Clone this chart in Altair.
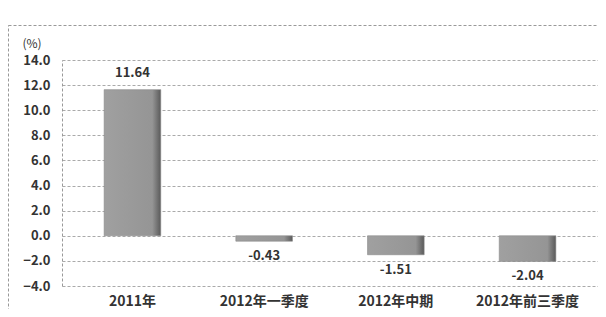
import altair as alt
import pandas as pd

categories = ["2011年", "2012年一季度", "2012年中期", "2012年前三季度"]
values = [11.64, -0.43, -1.51, -2.04]
labels = ["11.64", "-0.43", "-1.51", "-2.04"]
y_ticks = [-4.0, -2.0, 0.0, 2.0, 4.0, 6.0, 8.0, 10.0, 12.0, 14.0]

df = pd.DataFrame({"cat": categories, "val": values, "lab": labels})

font = "Noto Sans CJK SC"

x_enc = alt.X("cat:N", sort=categories, title=None,
              scale=alt.Scale(paddingInner=0.57, paddingOuter=0.32),
              axis=alt.Axis(labelAngle=0, labelFontSize=14, labelFontWeight="bold",
                            labelColor="#333", labelFont=font, domain=False, ticks=False,
                            labelPadding=8, orient="bottom"))
y_axis = alt.Axis(values=y_ticks, format=".1f", labelFontSize=13,
                  labelFontWeight="bold", labelColor="#333", labelFont=font,
                  labelOverlap=False, labelBound=False, labelFlush=False,
                  grid=True, gridDash=[3, 2], gridColor="#aaa",
                  domainDash=[3, 2], domainColor="#999", ticks=False,
                  labelPadding=12, titleAngle=0, titleAlign="left",
                  titleBaseline="middle",
                  titleX=-40, titleY=-17, titleFontSize=12,
                  titleFontWeight="normal", titleFont=font, titleColor="#333")
y_scale = alt.Scale(domain=[-4, 14], nice=False, zero=False)
y_enc = alt.Y("val:Q", title="(%)", scale=y_scale, axis=y_axis)

base = alt.Chart(df)

bar_fill = alt.LinearGradient(
    gradient="linear", x1=0, x2=1, y1=0, y2=0,
    stops=[alt.GradientStop(offset=0, color="#a0a0a0"),
           alt.GradientStop(offset=0.85, color="#959595"),
           alt.GradientStop(offset=1, color="#5a5a5a")])

bars = base.mark_bar(color=bar_fill, stroke="#8a8a8a", strokeWidth=0.6).encode(
    x=x_enc, y=y_enc, y2=alt.datum(0)
)

text_pos = base.transform_filter("datum.val >= 0").mark_text(
    dy=-17, fontSize=13, fontWeight="bold", font=font, color="#333"
).encode(x=x_enc, y=y_enc, text="lab:N")

text_neg = base.transform_filter("datum.val < 0").mark_text(
    dy=15, fontSize=13, fontWeight="bold", font=font, color="#333"
).encode(x=x_enc, y=y_enc, text="lab:N")

border = alt.Chart(pd.DataFrame({"a": [0]})).mark_rect(
    fill=None, stroke="#999", strokeDash=[3, 2], strokeWidth=1
).encode(x=alt.value(-53.5), x2=alt.value(600), y=alt.value(-34.5), y2=alt.value(300))

chart = alt.layer(bars, text_pos, text_neg, border).properties(
    width=536, height=226,
    autosize=alt.AutoSizeParams(type="none"),
    padding={"left": 54, "top": 52, "right": 0, "bottom": 23},
).configure_view(stroke=None)

chart.save("out.html", embed_options={"renderer": "svg", "actions": False})
